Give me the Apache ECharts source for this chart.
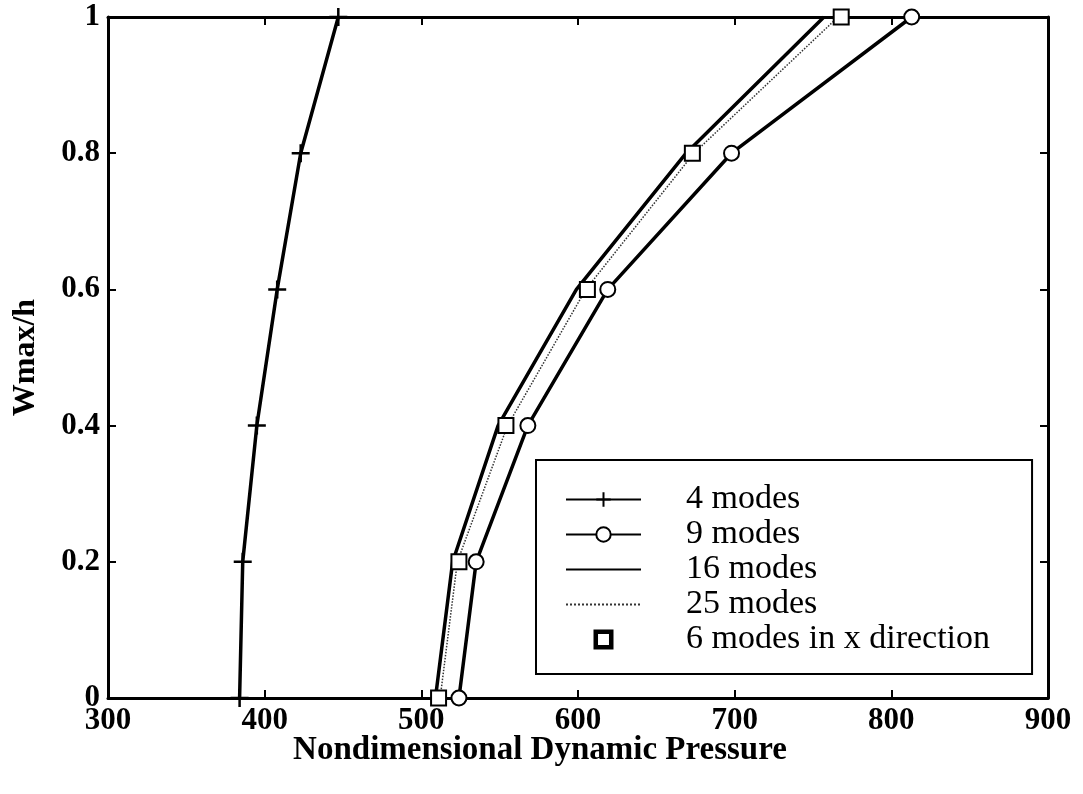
<!DOCTYPE html>
<html>
<head>
<meta charset="utf-8">
<script src="https://cdn.jsdelivr.net/npm/echarts@6/dist/echarts.min.js"></script>
<style>
  html, body { margin: 0; padding: 0; background: #fff; }
  #chart { width: 1083px; height: 794px; }
</style>
</head>
<body>
<div id="chart"></div>
<script>
// ── Data ────────────────────────────────────────────────────────────────────
const wmax = [0, 0.2, 0.4, 0.6, 0.8, 1];

const modes4 = [384, 386, 395, 408, 423, 447];
const modes9 = [524, 535, 568, 619, 698, 813];
const modes16 = [509, 520, 549, 599, 669, 757];
const modes25 = [512, 523, 555, 605, 674, 766];
const modes6x = [511, 524, 554, 606, 673, 768];

const seriesNames = ["4 modes", "9 modes", "16 modes", "25 modes", "6 modes in x direction"];

const FONT = "'Liberation Serif', 'DejaVu Serif', serif";
const PLUS = "path://M0,5 L10,5 M5,0 L5,10";
// hollow square for the legend (inner path wound the other way)
const HOLLOW_SQUARE = "path://M0,0 L10,0 L10,10 L0,10 Z M1.4,1.4 L1.4,8.6 L8.6,8.6 L8.6,1.4 Z";

function pairs(xs) {
  return xs.map((x, i) => [x, wmax[i]]);
}

const chart = echarts.init(document.getElementById("chart"));

const frameAxis = {
  axisLine: { show: true, onZero: false, lineStyle: { color: "#000", width: 3 } },
  axisTick: { show: true, inside: true, length: 8, lineStyle: { color: "#000", width: 2 } },
  splitLine: { show: false },
};

const tickFont = { fontFamily: FONT, fontWeight: "bold", fontSize: 31, color: "#000" };

chart.setOption({
  animation: false,
  backgroundColor: "#fff",
  grid: { left: 108, right: 35, top: 17, bottom: 96 },
  xAxis: [
    Object.assign({}, frameAxis, {
      type: "value",
      min: 300,
      max: 900,
      interval: 100,
      position: "bottom",
      name: "Nondimensional Dynamic Pressure",
      nameLocation: "middle",
      nameGap: 36,
      nameMoveOverlap: false,
      nameTextStyle: {
        fontFamily: FONT,
        fontWeight: "bold",
        fontSize: 33,
        color: "#000",
        padding: [0, 76, 0, 0],
      },
      axisLabel: Object.assign({ margin: 7 }, tickFont),
    }),
    Object.assign({}, frameAxis, {
      type: "value",
      min: 300,
      max: 900,
      interval: 100,
      position: "top",
      axisLabel: { show: false },
    }),
  ],
  yAxis: [
    Object.assign({}, frameAxis, {
      type: "value",
      min: 0,
      max: 1,
      interval: 0.2,
      position: "left",
      name: "Wmax/h",
      nameLocation: "middle",
      nameGap: 66,
      nameTextStyle: { fontFamily: FONT, fontWeight: "bold", fontSize: 32, color: "#000" },
      axisLabel: Object.assign({ margin: 8 }, tickFont),
    }),
    Object.assign({}, frameAxis, {
      type: "value",
      min: 0,
      max: 1,
      interval: 0.2,
      position: "right",
      axisLabel: { show: false },
    }),
  ],
  legend: {
    orient: "vertical",
    left: 536,
    top: 460,
    padding: [22, 42, 17, 29],
    itemWidth: 75,
    itemHeight: 18,
    itemGap: 0,
    backgroundColor: "#fff",
    borderColor: "#000",
    borderWidth: 2,
    borderRadius: 0,
    data: [
      { name: seriesNames[0] },
      { name: seriesNames[1] },
      { name: seriesNames[2], itemStyle: { opacity: 0 } },
      { name: seriesNames[3], itemStyle: { opacity: 0 } },
      { name: seriesNames[4], icon: HOLLOW_SQUARE, itemStyle: { color: "#000", opacity: 1 } },
    ],
    textStyle: {
      fontFamily: FONT,
      fontSize: 34,
      lineHeight: 35,
      color: "#000",
      padding: [0, 0, 0, 40],
    },
  },
  series: [
    {
      name: seriesNames[0],
      type: "line",
      data: pairs(modes4),
      symbol: PLUS,
      symbolSize: 18,
      lineStyle: { color: "#000", width: 3.5 },
      itemStyle: { color: "#000", borderColor: "#000", borderWidth: 2.5 },
    },
    {
      name: seriesNames[1],
      type: "line",
      data: pairs(modes9),
      symbol: "emptyCircle",
      symbolSize: 15,
      lineStyle: { color: "#000", width: 3.5 },
      itemStyle: { color: "#000", borderColor: "#000", borderWidth: 3 },
    },
    {
      name: seriesNames[2],
      type: "line",
      data: pairs(modes16),
      symbol: "none",
      lineStyle: { color: "#000", width: 3.5 },
      itemStyle: { color: "#000" },
    },
    {
      name: seriesNames[3],
      type: "line",
      data: pairs(modes25),
      symbol: "none",
      lineStyle: { color: "#333", width: 1.5, type: "dotted" },
      itemStyle: { color: "#333" },
    },
    {
      name: seriesNames[4],
      type: "scatter",
      data: pairs(modes6x),
      symbol: "emptyRect",
      symbolSize: 15,
      itemStyle: { color: "#000", borderColor: "#000", borderWidth: 3, opacity: 1 },
      z: 5,
    },
  ],
});

window.addEventListener("resize", () => chart.resize());
</script>
</body>
</html>
